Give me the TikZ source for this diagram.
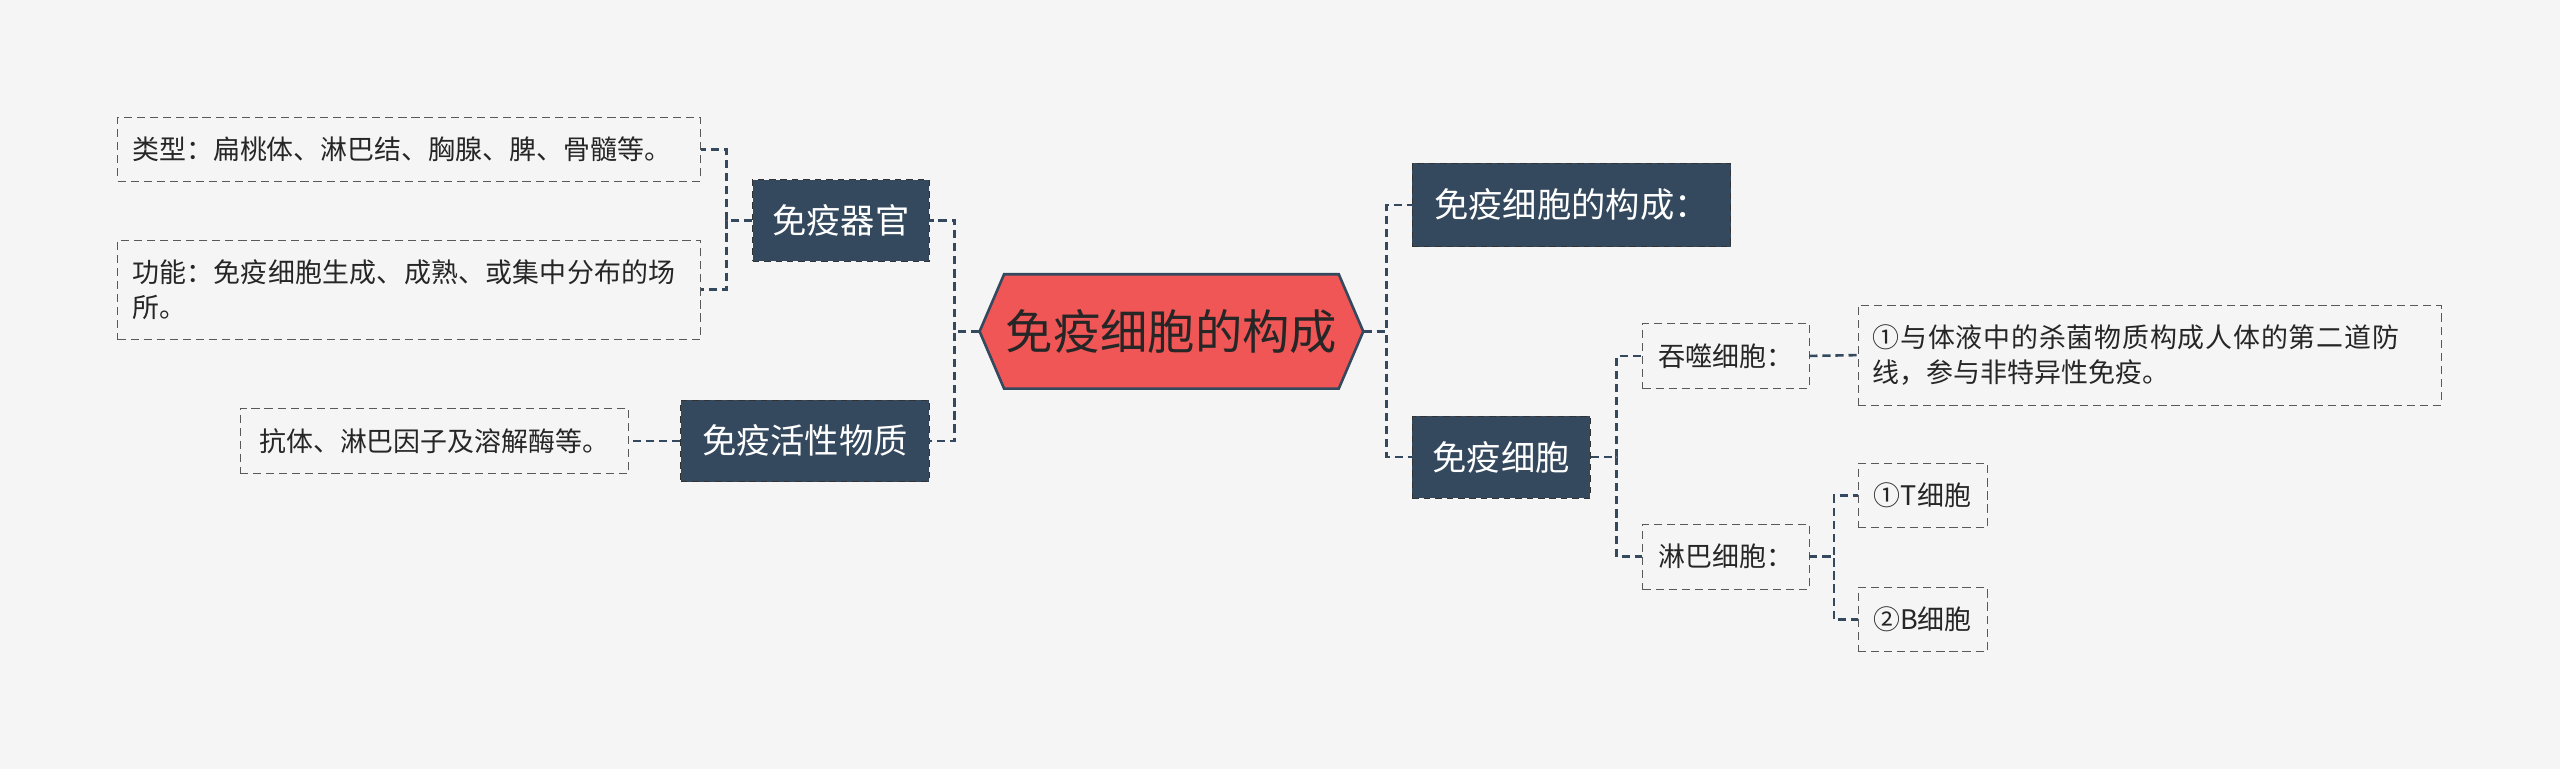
\documentclass[tikz,border=0pt]{standalone}
\usepackage{fontspec}
\newfontfamily\cjk{Noto Sans CJK SC}
\XeTeXlinebreaklocale "zh"
\XeTeXlinebreakskip=0pt plus 1pt
\begin{document}
\begin{tikzpicture}[x=1pt,y=-1pt,
 main/.style={fill=mainc,draw=gray!40!black,dash pattern=on 4pt off 3pt,text=white,font=\cjk\fontsize{21}{24}\selectfont,inner sep=0pt},
 leaf/.style={draw=gray!70!black,dash pattern=on 5pt off 3pt,font=\cjk\fontsize{16.5}{21}\selectfont,text=black!85,inner sep=0pt},
 wide/.style={inner xsep=9pt,align=left,text width=#1},
 con/.style={draw=mainc,dash pattern=on 5pt off 3pt,line width=1.6pt}]
\definecolor{mainc}{HTML}{34495E}
\definecolor{redc}{HTML}{F05656}
\fill[fill={rgb,255:red,245;green,245;blue,245}] (0,0) rectangle (1568,471);
\useasboundingbox (0,0) rectangle (1568,471);
% center
\fill[redc,draw=mainc,line width=1.6pt] (600,203)--(615,168)--(820,168)--(835,203)--(820,238)--(615,238)--cycle;
\node[minimum width=235,minimum height=70,inner sep=0pt,font=\cjk\fontsize{29}{32}\selectfont,text=black!85] (c) at (717.5,203) {免疫细胞的构成};
% mains
\node[main,minimum width=108,minimum height=50] (o) at (515,135) {免疫器官};
\node[main,minimum width=152,minimum height=50] (a) at (493,270) {免疫活性物质};
\node[main,minimum width=195,minimum height=51] (g) at (962.5,125.5) {免疫细胞的构成：};
\node[main,minimum width=109,minimum height=50] (x) at (919.5,280) {免疫细胞};
% leaves
\node[leaf,wide=339,minimum height=39] (l1) at (250.5,91.5) {类型：扁桃体、淋巴结、胸腺、脾、骨髓等。};
\node[leaf,wide=339,minimum height=61] (l2) at (250.5,177.5) {功能：免疫细胞生成、成熟、或集中分布的场所。};
\node[leaf,minimum width=238,minimum height=40] (l3) at (266,270) {抗体、淋巴因子及溶解酶等。};
\node[leaf,minimum width=102,minimum height=40] (t) at (1057,218) {吞噬细胞：};
\node[leaf,wide=339,minimum height=61] (t1) at (1316.5,217.5) {①与体液中的杀菌物质构成人体的第二道防线，参与非特异性免疫。};
\node[leaf,minimum width=102,minimum height=40] (lb) at (1057,341) {淋巴细胞：};
\node[leaf,minimum width=79,minimum height=39] (b1) at (1177.5,303.5) {①T细胞};
\node[leaf,minimum width=79,minimum height=39] (b2) at (1177.5,379.5) {②B细胞};
% connectors
\draw[con] (c.west) -- ++(-15,0) |- (o.east);
\draw[con] (c.west) -- ++(-15,0) |- (a.east);
\draw[con] (o.west) -- ++(-16,0) |- (l1.east);
\draw[con] (o.west) -- ++(-16,0) |- (l2.east);
\draw[con] (a.west) -- (l3.east);
\draw[con] (c.east) -- ++(14,0) |- (g.west);
\draw[con] (c.east) -- ++(14,0) |- (x.west);
\draw[con] (x.east) -- ++(16,0) |- (t.west);
\draw[con] (x.east) -- ++(16,0) |- (lb.west);
\draw[con] (t.east) -- (t1.west);
\draw[con] (lb.east) -- ++(15,0) |- (b1.west);
\draw[con] (lb.east) -- ++(15,0) |- (b2.west);
\end{tikzpicture}
\end{document}
